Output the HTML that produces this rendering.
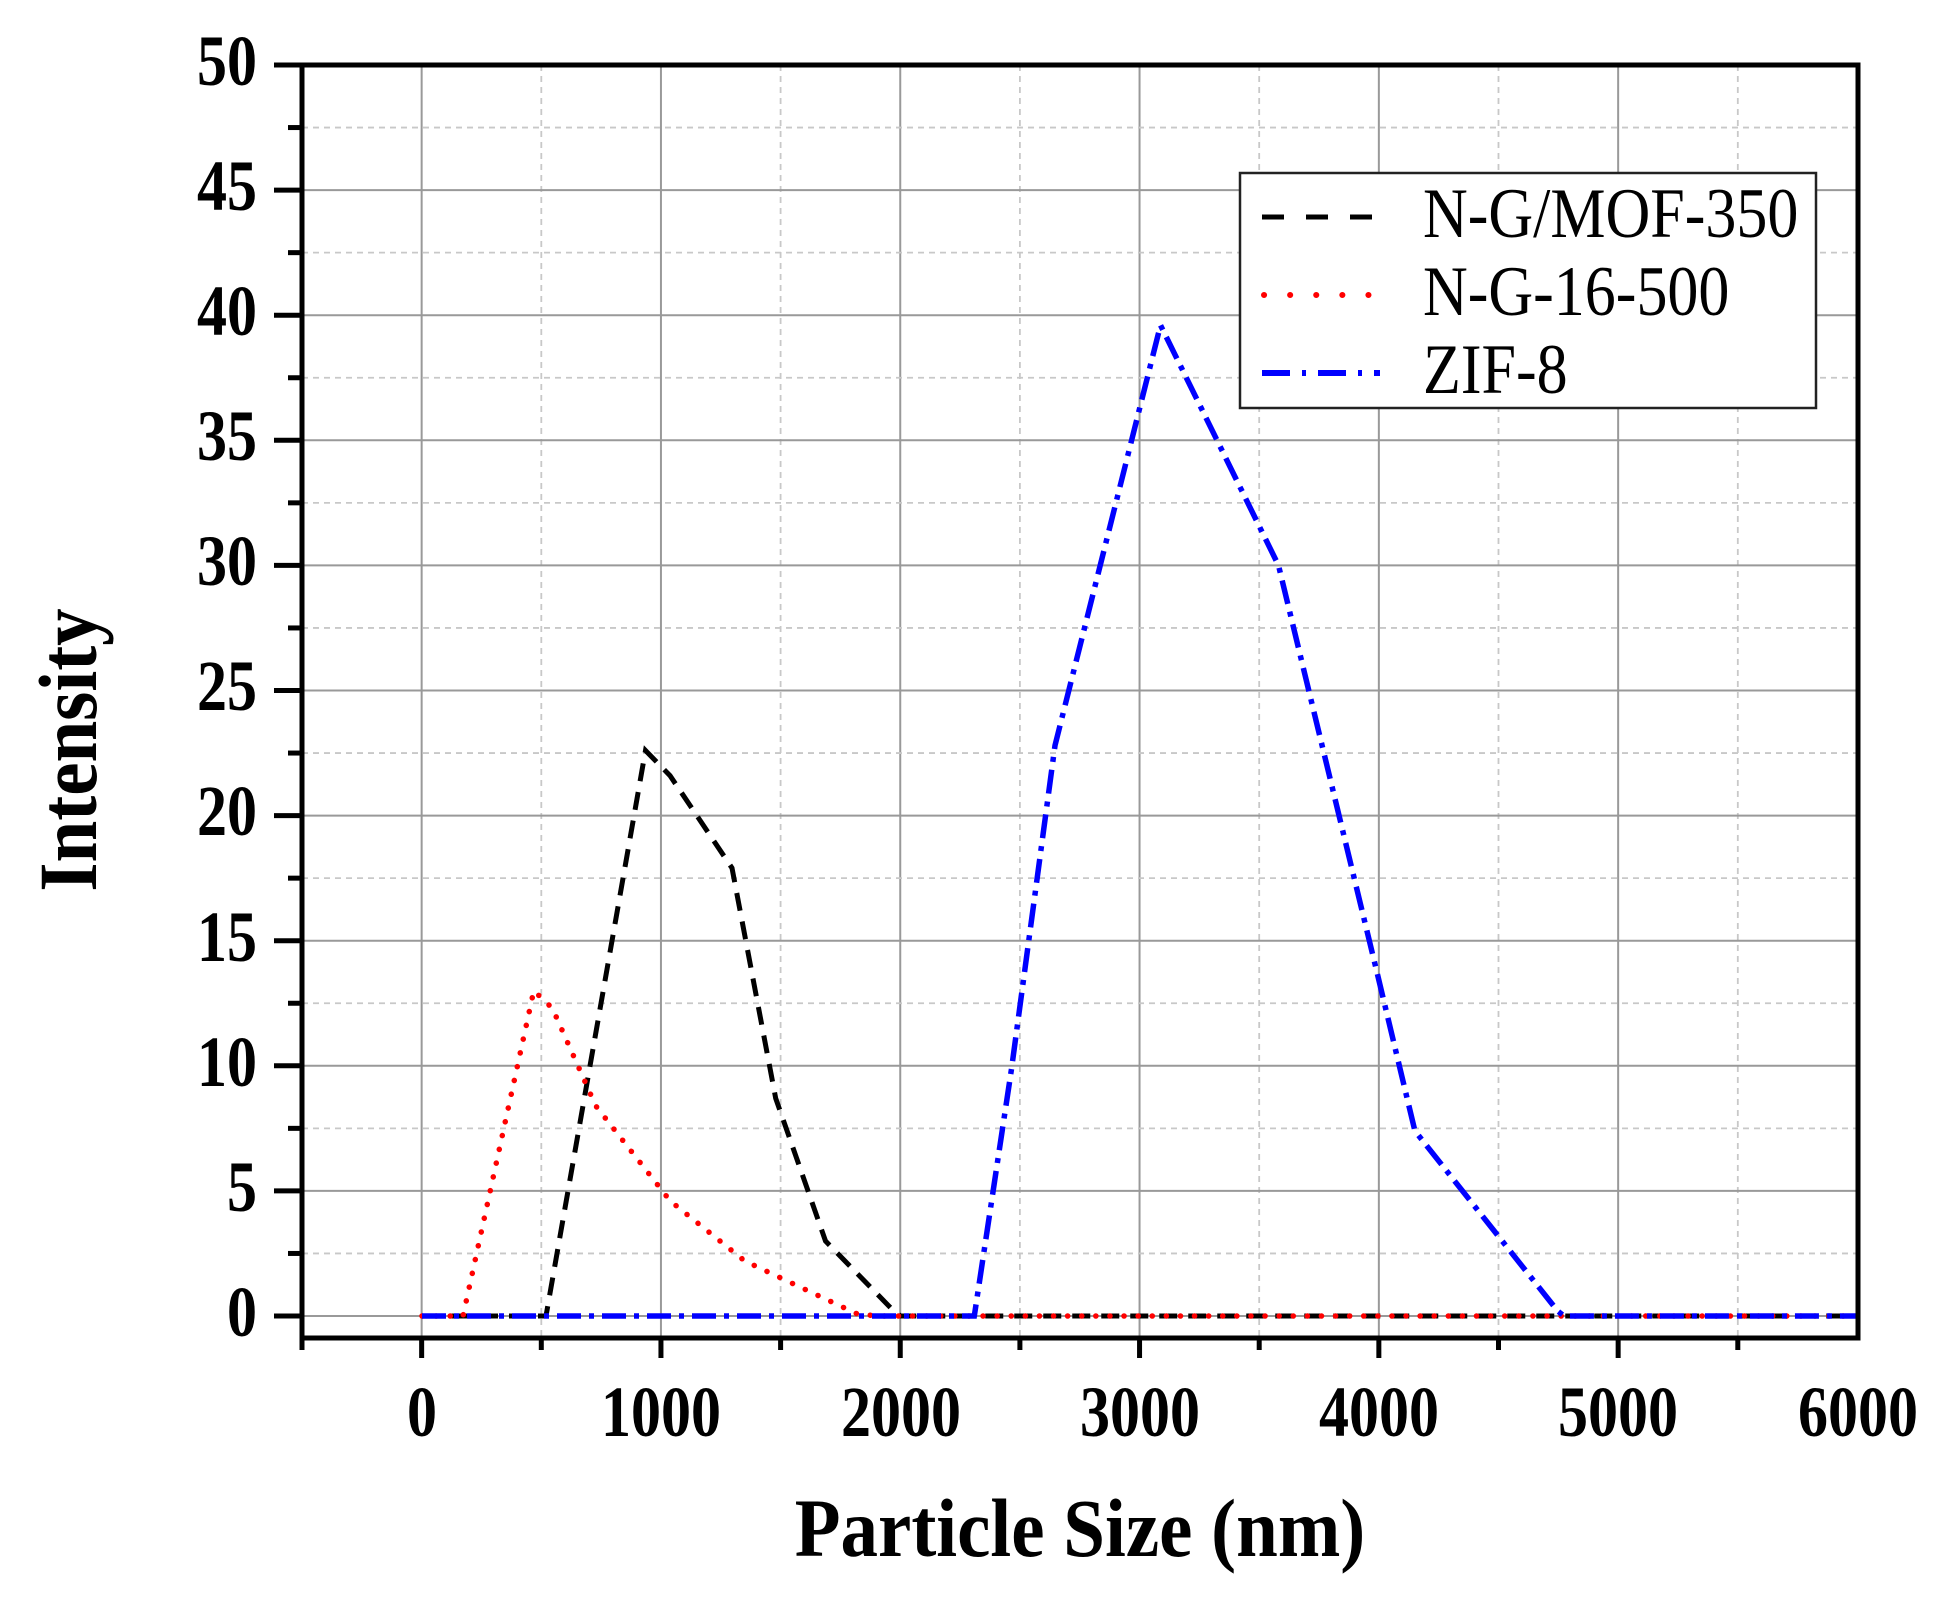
<!DOCTYPE html>
<html><head><meta charset="utf-8"><style>
html,body{margin:0;padding:0;background:#fff;}
svg{display:block;}
text{font-family:"Liberation Serif",serif;}
</style></head><body>
<svg id="s" width="1946" height="1611" viewBox="0 0 1946 1611" xmlns="http://www.w3.org/2000/svg">
<rect width="1946" height="1611" fill="#fff"/>
<g id="grid"></g>
<g id="ticks"></g>
<!-- data -->
<polyline fill="none" stroke="#000" stroke-width="5" stroke-dasharray="18,11" points="422,1316 546,1316 645.5,750.5 670,775.6 732,868 775.7,1098.3 825.5,1241 893.7,1311 900.6,1316 1858,1316"/>
<polyline fill="none" stroke="#f00" stroke-width="5.5" stroke-linecap="round" stroke-dasharray="0.1,14" points="422,1316 463,1316 533.8,990.7 552.4,1008.3 595.7,1105.8 670.2,1200.9 744.8,1261 856.3,1313.5 876.7,1316 1858,1316"/>
<polyline fill="none" stroke="#00f" stroke-width="5.5" stroke-dasharray="24,8,5,8" points="422,1316 974.3,1316 1011.6,1068.3 1055,745.5 1160.5,325.2 1278.5,565.4 1377.8,975.7 1414.9,1130.9 1557.7,1311 1564,1316 1858,1316"/>
<!-- frame -->
<rect x="302" y="65" width="1556" height="1273" fill="none" stroke="#000" stroke-width="5"/>
<!-- legend -->
<rect x="1240" y="173" width="576" height="235" fill="#fff" stroke="#222" stroke-width="2.5"/>
<line x1="1262" y1="217" x2="1380" y2="217" stroke="#000" stroke-width="5" stroke-dasharray="22,22"/>
<line x1="1264" y1="295" x2="1380" y2="295" stroke="#f00" stroke-width="6" stroke-linecap="round" stroke-dasharray="0.1,26"/>
<line x1="1262" y1="373" x2="1380" y2="373" stroke="#00f" stroke-width="6" stroke-dasharray="28,12,4,12"/>
<g font-size="62" fill="#000">
<text transform="translate(1423,237) scale(1,1.15)">N-G/MOF-350</text>
<text transform="translate(1423,315) scale(1,1.15)">N-G-16-500</text>
<text transform="translate(1423,393) scale(1,1.15)">ZIF-8</text>
</g>
<!-- y labels -->
<g font-size="60" font-weight="bold" text-anchor="end" fill="#000">
<text transform="translate(257,1336) scale(1,1.2)">0</text>
<text transform="translate(257,1211) scale(1,1.2)">5</text>
<text transform="translate(257,1086) scale(1,1.2)">10</text>
<text transform="translate(257,961) scale(1,1.2)">15</text>
<text transform="translate(257,835) scale(1,1.2)">20</text>
<text transform="translate(257,710) scale(1,1.2)">25</text>
<text transform="translate(257,585) scale(1,1.2)">30</text>
<text transform="translate(257,460) scale(1,1.2)">35</text>
<text transform="translate(257,335) scale(1,1.2)">40</text>
<text transform="translate(257,210) scale(1,1.2)">45</text>
<text transform="translate(257,85) scale(1,1.2)">50</text>
</g>
<g font-size="60" font-weight="bold" text-anchor="middle" fill="#000">
<text transform="translate(422,1436) scale(1,1.2)">0</text>
<text transform="translate(661,1436) scale(1,1.2)">1000</text>
<text transform="translate(901,1436) scale(1,1.2)">2000</text>
<text transform="translate(1140,1436) scale(1,1.2)">3000</text>
<text transform="translate(1379,1436) scale(1,1.2)">4000</text>
<text transform="translate(1618,1436) scale(1,1.2)">5000</text>
<text transform="translate(1858,1436) scale(1,1.2)">6000</text>
</g>
<text transform="translate(1080,1556) scale(1,1.1)" font-size="75" font-weight="bold" text-anchor="middle">Particle Size (nm)</text>
<text transform="translate(96,750) rotate(-90) scale(1,1.1)" font-size="75" font-weight="bold" text-anchor="middle">Intensity</text>
</svg>
<script>
var NS="http://www.w3.org/2000/svg",g=document.getElementById("grid"),t=document.getElementById("ticks");
function L(p,x1,y1,x2,y2,c,w,d){var l=document.createElementNS(NS,"line");l.setAttribute("x1",x1);l.setAttribute("y1",y1);l.setAttribute("x2",x2);l.setAttribute("y2",y2);l.setAttribute("stroke",c);l.setAttribute("stroke-width",w);if(d)l.setAttribute("stroke-dasharray",d);p.appendChild(l);}
for(var i=0;i<=12;i++){var x=302+i*119.65,maj=(i%2==1);
 if(i>0&&i<13){L(g,x,65,x,1338,maj?"#999":"#c8c8c8",maj?2:1.8,maj?null:"6,5");}
 L(t,x,1338,x,1338+(maj?20:12),"#000",5);}
for(var j=0;j<=20;j++){var y=1316-j*62.55,maj=(j%2==0);
 if(j<20)L(g,302,y,1858,y,maj?"#999":"#c8c8c8",maj?2:1.8,maj?null:"6,5");
 L(t,302,y,302-(maj?28:14),y,"#000",5);}
</script>
</body></html>
